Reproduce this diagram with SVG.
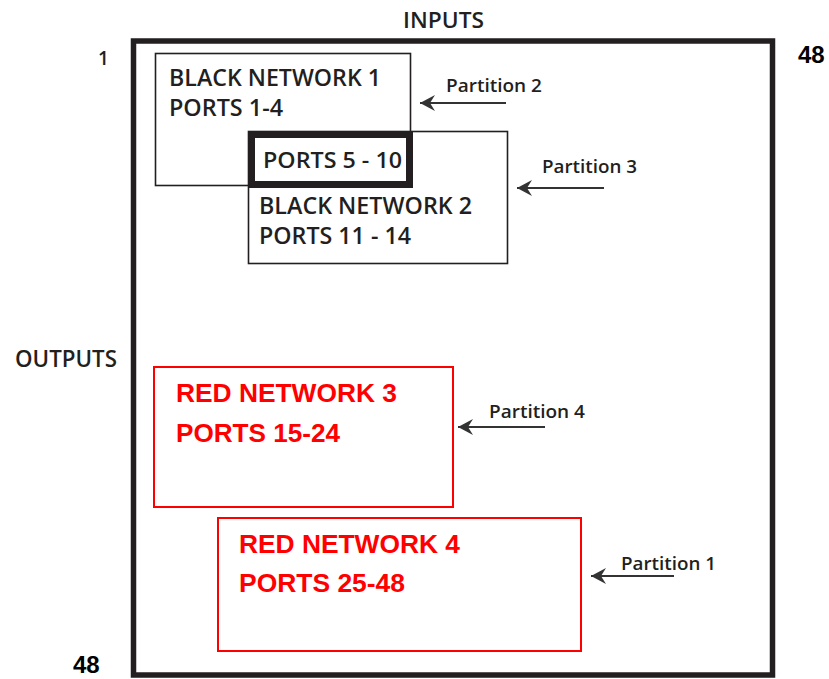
<svg xmlns="http://www.w3.org/2000/svg" width="829" height="679" viewBox="0 0 829 679">
<defs>
<style>
.frame{fill:none;stroke:#231f20;stroke-width:5.5}
.bbox{fill:none;stroke:#231f20;stroke-width:1.6}
.thick{fill:none;stroke:#231f20;stroke-width:7}
.rbox{fill:none;stroke:#ff0000;stroke-width:2}
.bt{font-family:"Open Sans","Liberation Sans",sans-serif;fill:#231f20;font-weight:600}
.rt{font-family:"Liberation Sans",Arial,sans-serif;font-weight:bold;fill:#ff0000;font-size:25px}
.num{font-family:"Liberation Sans",Arial,sans-serif;font-weight:bold;fill:#000;font-size:24px}
.pt{font-family:"Open Sans","Liberation Sans",sans-serif;fill:#231f20;font-size:18px;font-weight:600}
.arr{stroke:#333;stroke-width:2;fill:none;marker-end:url(#ah)}
</style>
<marker id="ah" markerUnits="userSpaceOnUse" markerWidth="20" markerHeight="20" viewBox="-16 -10 20 20" refX="0" refY="0" orient="auto">
<path d="M0,0 L-15,-8 L-10,0 L-15,8 Z" fill="#333"/>
</marker>
</defs>
<rect width="829" height="679" fill="#fff"/>
<g id="frame">
<rect class="frame" x="133.5" y="41" width="639" height="634"/>
<text class="bt" x="403" y="28" font-size="21" textLength="81" lengthAdjust="spacingAndGlyphs">INPUTS</text>
<text class="bt" x="15" y="367" font-size="23" textLength="102" lengthAdjust="spacingAndGlyphs">OUTPUTS</text>
<text class="bt" x="98" y="65" font-size="19">1</text>
<text class="num" x="798" y="63">48</text>
<text class="num" x="73" y="673">48</text>
</g>
<g id="black-network-1">
<rect class="bbox" x="155.5" y="53.5" width="255" height="132"/>
<text class="bt" x="169" y="86" font-size="23" textLength="212" lengthAdjust="spacingAndGlyphs">BLACK NETWORK 1</text>
<text class="bt" x="169" y="116" font-size="23" textLength="114" lengthAdjust="spacingAndGlyphs">PORTS 1-4</text>
</g>
<g id="black-network-2">
<rect class="bbox" x="248.5" y="131.5" width="259" height="132"/>
<text class="bt" x="259" y="214" font-size="23" textLength="213" lengthAdjust="spacingAndGlyphs">BLACK NETWORK 2</text>
<text class="bt" x="259" y="244" font-size="23" textLength="152" lengthAdjust="spacingAndGlyphs">PORTS 11 - 14</text>
</g>
<g id="shared-ports">
<rect class="thick" x="251.5" y="134.5" width="158" height="50"/>
<text class="bt" x="263" y="168" font-size="21" textLength="139" lengthAdjust="spacingAndGlyphs">PORTS 5 - 10</text>
</g>
<g id="red-network-3">
<rect class="rbox" x="154" y="367" width="299" height="140"/>
<text class="rt" x="176" y="402" textLength="221" lengthAdjust="spacingAndGlyphs">RED NETWORK 3</text>
<text class="rt" x="176" y="442" textLength="164" lengthAdjust="spacingAndGlyphs">PORTS 15-24</text>
</g>
<g id="red-network-4">
<rect class="rbox" x="218" y="518" width="363" height="133"/>
<text class="rt" x="239" y="553" textLength="221" lengthAdjust="spacingAndGlyphs">RED NETWORK 4</text>
<text class="rt" x="239" y="592" textLength="166" lengthAdjust="spacingAndGlyphs">PORTS 25-48</text>
</g>
<g id="partition-labels">
<text class="pt" x="446" y="92" textLength="96" lengthAdjust="spacingAndGlyphs">Partition 2</text>
<text class="pt" x="542" y="173" textLength="95" lengthAdjust="spacingAndGlyphs">Partition 3</text>
<text class="pt" x="489" y="418" textLength="96" lengthAdjust="spacingAndGlyphs">Partition 4</text>
<text class="pt" x="621" y="570" textLength="95" lengthAdjust="spacingAndGlyphs">Partition 1</text>
</g>
<g id="connectors">
<line class="arr" x1="506" y1="103" x2="420" y2="103"/>
<line class="arr" x1="604" y1="188" x2="517" y2="188"/>
<line class="arr" x1="545" y1="427" x2="458" y2="427"/>
<line class="arr" x1="674" y1="576" x2="591" y2="576"/>
</g>
</svg>
